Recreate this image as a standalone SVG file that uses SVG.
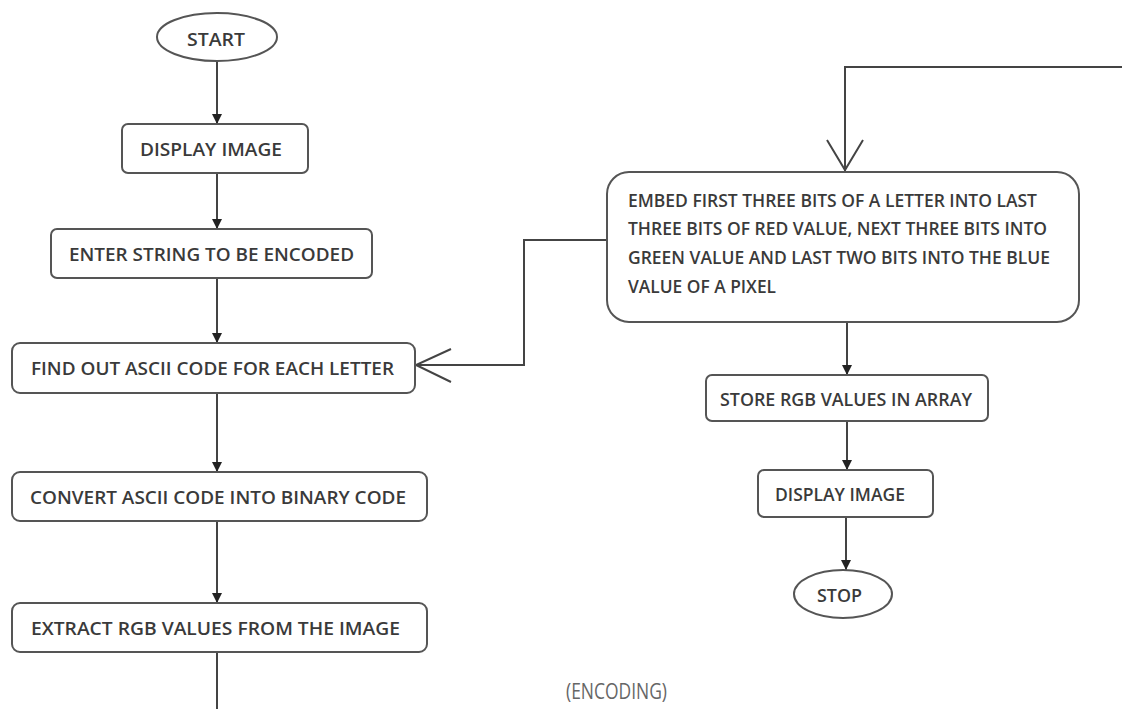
<svg xmlns="http://www.w3.org/2000/svg" width="1135" height="709" viewBox="0 0 1135 709">
<style>
.box{fill:#fff;stroke:#555;stroke-width:2}
.ln{fill:none;stroke:#444;stroke-width:2}
.t,.tl{font-family:"Open Sans","Liberation Sans",sans-serif;font-size:18px;font-weight:600;fill:#3a3a3a;dominant-baseline:central}
</style>
<defs>
<marker id="fa" viewBox="0 0 10 10" refX="10" refY="5" markerWidth="10" markerHeight="10" orient="auto" markerUnits="userSpaceOnUse">
<path d="M0,0 L10,5 L0,10 Z" fill="#222"/>
</marker>
</defs>
<rect width="1135" height="709" fill="#fff"/>
<g id="connectors">
<line class="ln" x1="217" y1="62" x2="217" y2="124" marker-end="url(#fa)"/>
<line class="ln" x1="217" y1="173" x2="217" y2="229" marker-end="url(#fa)"/>
<line class="ln" x1="217" y1="278" x2="217" y2="343" marker-end="url(#fa)"/>
<line class="ln" x1="217" y1="393" x2="217" y2="472" marker-end="url(#fa)"/>
<line class="ln" x1="217" y1="521" x2="217" y2="603" marker-end="url(#fa)"/>
<line class="ln" x1="217" y1="652" x2="217" y2="709"/>
<polyline class="ln" points="607,240 524,240 524,365 416,365"/>
<polyline class="ln" points="451,349 416,365 451,382"/>
<polyline class="ln" points="1122,67 845,67 845,171"/>
<polyline class="ln" points="827,140 845,170 863,140"/>
<line class="ln" x1="847" y1="322" x2="847" y2="375" marker-end="url(#fa)"/>
<line class="ln" x1="847" y1="421" x2="847" y2="470" marker-end="url(#fa)"/>
<line class="ln" x1="846" y1="517" x2="846" y2="570" marker-end="url(#fa)"/>
</g>
<g id="start"><ellipse class="box" cx="217" cy="37" rx="60" ry="24"/><text class="t" x="187" y="39" textLength="58" lengthAdjust="spacingAndGlyphs">START</text></g>
<g id="display1"><rect class="box" x="122" y="124" width="186" height="49" rx="6"/><text class="t" x="140" y="149" textLength="142" lengthAdjust="spacingAndGlyphs">DISPLAY IMAGE</text></g>
<g id="enter"><rect class="box" x="51" y="229" width="321" height="49" rx="6"/><text class="t" x="69" y="254" textLength="285" lengthAdjust="spacingAndGlyphs">ENTER STRING TO BE ENCODED</text></g>
<g id="ascii"><rect class="box" x="12" y="343" width="403" height="50" rx="8"/><text class="t" x="31" y="368" textLength="363" lengthAdjust="spacingAndGlyphs">FIND OUT ASCII CODE FOR EACH LETTER</text></g>
<g id="binary"><rect class="box" x="12" y="472" width="415" height="49" rx="8"/><text class="t" x="30" y="497" textLength="376" lengthAdjust="spacingAndGlyphs">CONVERT ASCII CODE INTO BINARY CODE</text></g>
<g id="extract"><rect class="box" x="12" y="603" width="415" height="49" rx="8"/><text class="t" x="31" y="628" textLength="369" lengthAdjust="spacingAndGlyphs">EXTRACT RGB VALUES FROM THE IMAGE</text></g>
<g id="embed"><rect class="box" x="607" y="172" width="472" height="150" rx="22"/>
<text class="tl" x="628" y="200" textLength="409" lengthAdjust="spacingAndGlyphs">EMBED FIRST THREE BITS OF A LETTER INTO LAST</text>
<text class="tl" x="628" y="228" textLength="419" lengthAdjust="spacingAndGlyphs">THREE BITS OF RED VALUE, NEXT THREE BITS INTO</text>
<text class="tl" x="628" y="257" textLength="422" lengthAdjust="spacingAndGlyphs">GREEN VALUE AND LAST TWO BITS INTO THE BLUE</text>
<text class="tl" x="628" y="286" textLength="148" lengthAdjust="spacingAndGlyphs">VALUE OF A PIXEL</text>
</g>
<g id="store"><rect class="box" x="706" y="375" width="282" height="46" rx="6"/><text class="t" x="720" y="399" textLength="252" lengthAdjust="spacingAndGlyphs">STORE RGB VALUES IN ARRAY</text></g>
<g id="display2"><rect class="box" x="758" y="470" width="175" height="47" rx="6"/><text class="t" x="775" y="494" textLength="130" lengthAdjust="spacingAndGlyphs">DISPLAY IMAGE</text></g>
<g id="stop"><ellipse class="box" cx="843" cy="594" rx="49" ry="24"/><text class="t" x="817" y="595" textLength="45" lengthAdjust="spacingAndGlyphs">STOP</text></g>
<text x="566" y="690" textLength="101" lengthAdjust="spacingAndGlyphs" font-family="'Open Sans','Liberation Sans',sans-serif" font-size="22" fill="#666" dominant-baseline="central">(ENCODING)</text>
</svg>
